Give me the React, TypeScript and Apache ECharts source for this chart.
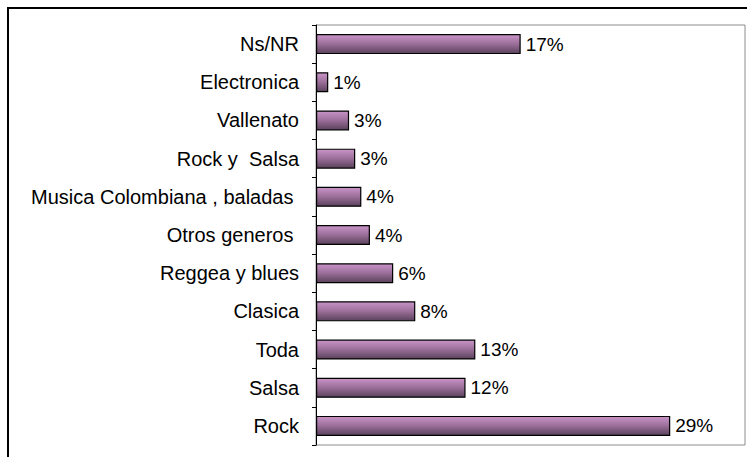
import React, { useEffect, useRef } from "react";
import * as echarts from "echarts";

const categories = [
  "Ns/NR",
  "Electronica",
  "Vallenato",
  "Rock y  Salsa",
  "Musica Colombiana , baladas ",
  "Otros generos ",
  "Reggea y blues",
  "Clasica",
  "Toda",
  "Salsa",
  "Rock",
];
const values = [16.7, 1.0, 2.7, 3.2, 3.7, 4.4, 6.3, 8.1, 13.0, 12.2, 28.9];
const axisMin = 0;
const axisMax = 35;

const FONT = "'Liberation Sans', Arial, sans-serif";

export default function App() {
  const ref = useRef<HTMLDivElement>(null);
  useEffect(() => {
    if (!ref.current) return;
    const chart = echarts.init(ref.current, undefined, { renderer: "svg" });
    chart.setOption({
      animation: false,
      backgroundColor: "#ffffff",
      grid: {
        left: 316,
        right: 2,
        top: 25,
        bottom: 12,
        show: true,
        borderColor: "#8c8c8c",
        borderWidth: 1,
        containLabel: false,
      },
      graphic: [
        {
          type: "rect",
          shape: { x: 8, y: 8, width: 800, height: 500 },
          style: { fill: "none", stroke: "#000", lineWidth: 2 },
          silent: true,
        },
      ],
      xAxis: {
        type: "value",
        min: axisMin,
        max: axisMax,
        show: false,
        splitLine: { show: false },
      },
      yAxis: {
        type: "category",
        data: categories,
        inverse: true,
        axisLine: { show: true, lineStyle: { color: "#000", width: 1 } },
        axisTick: { show: true, length: 4, lineStyle: { color: "#000" } },
        axisLabel: {
          color: "#000",
          fontFamily: FONT,
          fontSize: 20,
          margin: 17,
        },
      },
      series: [
        {
          type: "bar",
          data: values,
          barWidth: 20,
          itemStyle: {
            color: new echarts.graphic.LinearGradient(0, 0, 0, 1, [
              { offset: 0, color: "#c994c9" },
              { offset: 0.5, color: "#9a6e98" },
              { offset: 1, color: "#5a425c" },
            ]),
            borderColor: "#000",
            borderWidth: 1.2,
          },
          label: {
            show: true,
            position: "right",
            distance: 5,
            color: "#000",
            fontFamily: FONT,
            fontSize: 19,
            formatter: (p: any) => Math.round(p.value) + "%",
          },
        },
      ],
    });
    return () => chart.dispose();
  }, []);
  return (
    <div
      ref={ref}
      style={{ position: "fixed", left: 0, top: 0, width: 747, height: 457 }}
    />
  );
}
